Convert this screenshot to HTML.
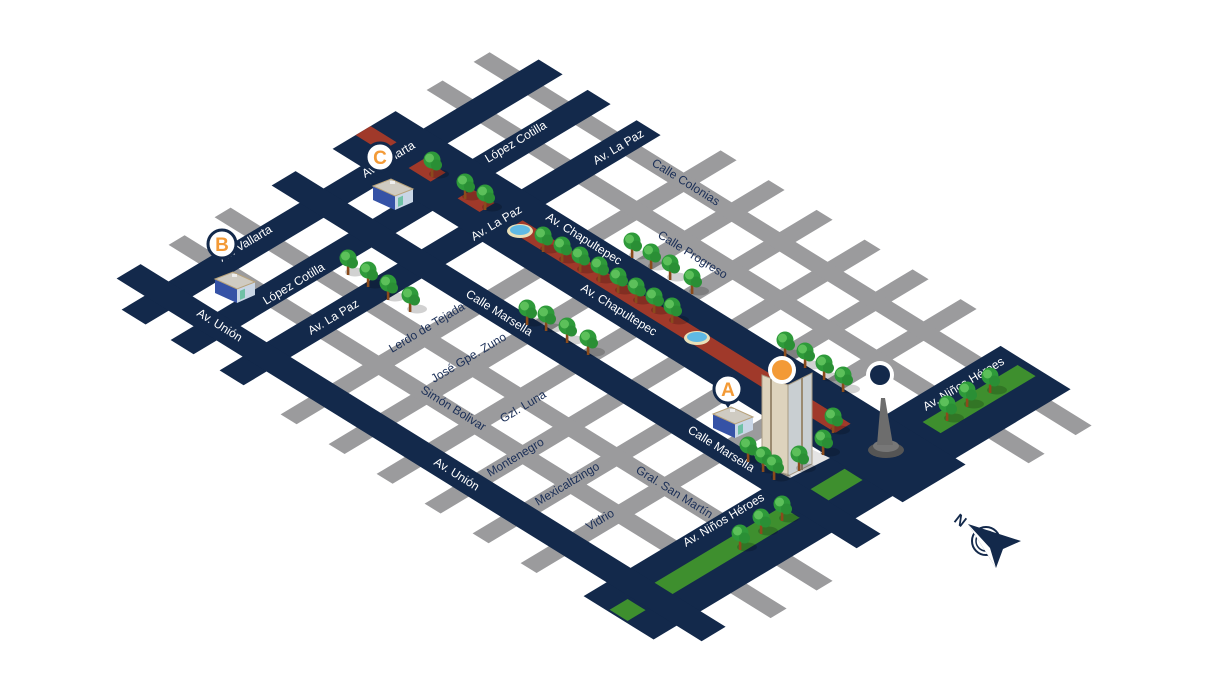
<!DOCTYPE html>
<html><head><meta charset="utf-8"><style>
html,body{margin:0;padding:0;background:#fff;}
svg{display:block;}
text{font-family:"Liberation Sans",sans-serif;}
.w{fill:#fff;font-size:12px;}
.n{fill:#1b2f57;font-size:12px;}
</style></head><body>
<svg width="1225" height="689" viewBox="0 0 1225 689" xmlns="http://www.w3.org/2000/svg">
<defs>
<g id="tree">
<ellipse cx="7" cy="7" rx="10" ry="4.5" fill="#000" opacity="0.18"/>
<rect x="-1.2" y="0" width="2.6" height="10" fill="#8a4b1c"/>
<circle cx="0" cy="-7" r="8.5" fill="#2e9a3a"/>
<circle cx="4.5" cy="-2" r="5.5" fill="#2a8f35"/>
<circle cx="-2.5" cy="-9" r="4.5" fill="#5cc05a"/>
</g>
<g id="shop">
<polygon points="0,20 22,30 22,16 0,6" fill="#3552a6"/>
<polygon points="22,30 40,22 40,9 22,16" fill="#c9d6e6"/>
<rect x="25" y="17" width="5" height="9" fill="#6fc1a6" transform="skewY(-24) translate(0,12)"/>
<polygon points="0,6 18,-1 40,9 22,16" fill="#cfcbc2" stroke="#b8a27a" stroke-width="1"/>
<rect x="17" y="1" width="5" height="3" fill="#eee"/>
</g>
</defs>

<g transform="matrix(1,-0.6,1,0.62,168.6,296.1)">
<g fill="#9b9b9d">
<rect x="-40" y="152" width="440" height="16"/>
<rect x="-40" y="200" width="440" height="16"/>
<rect x="-40" y="248" width="440" height="16"/>
<rect x="-40" y="296" width="440" height="16"/>
<rect x="-40" y="344" width="440" height="16"/>
<rect x="-40" y="392" width="440" height="16"/>
<rect x="42" y="-42" width="16" height="602"/>
<rect x="88" y="-42" width="16" height="602"/>
<rect x="300" y="-42" width="16" height="602"/>
<rect x="347" y="-42" width="16" height="602"/>
</g>
<g fill="#13294b">
<rect x="-35" y="-12" width="417" height="24"/>
<rect x="-35" y="37" width="417" height="23"/>
<rect x="-35" y="86" width="417" height="24"/>
<rect x="-35" y="450" width="417" height="70"/>
<rect x="-12" y="-40" width="24" height="585"/>
<rect x="143" y="-40" width="24" height="585"/>
<rect x="204" y="-40" width="63" height="570"/>
</g>
<g fill="#a0392a">
<rect x="227" y="-40" width="15" height="26"/>
<rect x="227" y="13" width="15" height="22"/>
<rect x="227" y="62" width="15" height="22"/>
<rect x="227" y="112" width="15" height="328"/>
</g>
<g fill="#3e8f2e">
<rect x="12" y="474" width="127" height="18"/>
<rect x="168" y="474" width="34" height="18"/>
<rect x="-33" y="474" width="18" height="18"/>
<rect x="280" y="474" width="95" height="18"/>
</g>
</g>

<ellipse cx="520" cy="231" rx="13" ry="7" fill="#e9e0b8"/>
<ellipse cx="520" cy="230" rx="10" ry="5" fill="#5fb9e4"/>
<ellipse cx="697" cy="338" rx="13" ry="7" fill="#e9e0b8"/>
<ellipse cx="697" cy="337" rx="10" ry="5" fill="#5fb9e4"/>

<g class="w">
<text transform="translate(222,262) rotate(-31)">Av. Vallarta</text>
<text transform="translate(365,178) rotate(-31)">Av. Vallarta</text>
<text transform="translate(266,305) rotate(-31)">López Cotilla</text>
<text transform="translate(311,335) rotate(-31)">Av. La Paz</text>
<text transform="translate(196,315) rotate(32)">Av. Unión</text>
<text transform="translate(488,163) rotate(-31)">López Cotilla</text>
<text transform="translate(596,165) rotate(-31)">Av. La Paz</text>
<text transform="translate(474,241) rotate(-31)">Av. La Paz</text>
<text transform="translate(545,219) rotate(32)">Av. Chapultepec</text>
<text transform="translate(580,290) rotate(32)">Av. Chapultepec</text>
<text transform="translate(465,296) rotate(32)">Calle Marsella</text>
<text transform="translate(687,432) rotate(32)">Calle Marsella</text>
<text transform="translate(433,464) rotate(32)">Av. Unión</text>
<text transform="translate(686,547) rotate(-31)">Av. Niños Héroes</text>
<text transform="translate(926,411) rotate(-31)">Av. Niños Héroes</text>
</g>
<g class="n">
<text transform="translate(651,165) rotate(32)">Calle Colonias</text>
<text transform="translate(657,237) rotate(32)">Calle Progreso</text>
<text transform="translate(392,353) rotate(-31)">Lerdo de Tejada</text>
<text transform="translate(434,383) rotate(-31)">José Gpe. Zuno</text>
<text transform="translate(420,392) rotate(32)">Simón Bolivar</text>
<text transform="translate(503,423) rotate(-31)">Gzl. Luna</text>
<text transform="translate(490,477) rotate(-31)">Montenegro</text>
<text transform="translate(538,506) rotate(-31)">Mexicaltzingo</text>
<text transform="translate(635,472) rotate(32)">Gral. San Martín</text>
<text transform="translate(589,531) rotate(-31)">Vidrio</text>
</g>

<g>
<use href="#tree" x="432" y="167"/>
<use href="#tree" x="465" y="189"/>
<use href="#tree" x="485" y="200"/>
<use href="#tree" x="348" y="265"/>
<use href="#tree" x="368" y="277"/>
<use href="#tree" x="388" y="290"/>
<use href="#tree" x="410" y="302"/>
<use href="#tree" x="527" y="315"/>
<use href="#tree" x="546" y="321"/>
<use href="#tree" x="567" y="333"/>
<use href="#tree" x="588" y="345"/>
<use href="#tree" x="543" y="242"/>
<use href="#tree" x="562" y="252"/>
<use href="#tree" x="580" y="262"/>
<use href="#tree" x="599" y="272"/>
<use href="#tree" x="618" y="283"/>
<use href="#tree" x="636" y="293"/>
<use href="#tree" x="654" y="303"/>
<use href="#tree" x="672" y="313"/>
<use href="#tree" x="632" y="248"/>
<use href="#tree" x="651" y="259"/>
<use href="#tree" x="670" y="270"/>
<use href="#tree" x="692" y="284"/>
<use href="#tree" x="785" y="347"/>
<use href="#tree" x="805" y="358"/>
<use href="#tree" x="824" y="370"/>
<use href="#tree" x="843" y="382"/>
<use href="#tree" x="833" y="423"/>
<use href="#tree" x="740" y="540"/>
<use href="#tree" x="761" y="524"/>
<use href="#tree" x="782" y="511"/>
<use href="#tree" x="947" y="411"/>
<use href="#tree" x="967" y="397"/>
<use href="#tree" x="990" y="383"/>
</g>

<use href="#shop" x="215" y="273"/>
<use href="#shop" x="373" y="180"/>
<use href="#shop" x="713" y="408"/>

<polygon points="765,465 790,478 830,458 805,446" fill="#e4e4e4"/>
<polygon points="762,375 788,385 788,476 762,464" fill="#ddd3bd" stroke="#a89b84" stroke-width="1"/>
<polygon points="788,385 812,373 812,464 788,476" fill="#c9cfd2" stroke="#a89b84" stroke-width="1"/>
<line x1="771" y1="379" x2="771" y2="468" stroke="#9a8a70" stroke-width="2"/>
<line x1="802" y1="378" x2="802" y2="470" stroke="#9a8a70" stroke-width="2"/>
<use href="#tree" x="748" y="452"/>
<use href="#tree" x="763" y="462"/>
<use href="#tree" x="774" y="470"/>
<use href="#tree" x="799" y="461"/>
<use href="#tree" x="823" y="445"/>

<ellipse cx="886" cy="450" rx="18" ry="8" fill="#555"/>
<ellipse cx="886" cy="446" rx="13" ry="6" fill="#777"/>
<polygon points="881,398 885,398 893,445 877,445" fill="#6d6d6d"/>

<g>
<circle cx="222" cy="244" r="14" fill="#fff" stroke="#13294b" stroke-width="3"/>
<text x="222" y="251" text-anchor="middle" style="font-size:19px;font-weight:bold;fill:#f39a36">B</text>
<circle cx="380" cy="157" r="14" fill="#fff" stroke="#13294b" stroke-width="3"/>
<text x="380" y="164" text-anchor="middle" style="font-size:19px;font-weight:bold;fill:#f39a36">C</text>
<circle cx="728" cy="389" r="14" fill="#fff" stroke="#13294b" stroke-width="3"/>
<polygon points="724,402 732,402 728,408" fill="#13294b"/>
<text x="728" y="396" text-anchor="middle" style="font-size:19px;font-weight:bold;fill:#f39a36">A</text>
<circle cx="782" cy="370" r="14" fill="#fff"/>
<circle cx="782" cy="370" r="10" fill="#f39a36"/>
<circle cx="880" cy="375" r="14" fill="#fff"/>
<circle cx="880" cy="375" r="10" fill="#13294b"/>
</g>

<g>
<text transform="translate(953,521) rotate(38)" style="font-size:15px;font-weight:bold;fill:#13294b">N</text>
<circle cx="986" cy="541" r="14" fill="none" stroke="#13294b" stroke-width="2"/>
<circle cx="986" cy="541" r="10" fill="none" stroke="#13294b" stroke-width="1.5"/>
<polygon points="968,524 1021,541 1003,549 996,568" fill="#13294b"/>
<polygon points="968,524 996,568 990,548" fill="#fff"/>
</g>
</svg>
</body></html>
